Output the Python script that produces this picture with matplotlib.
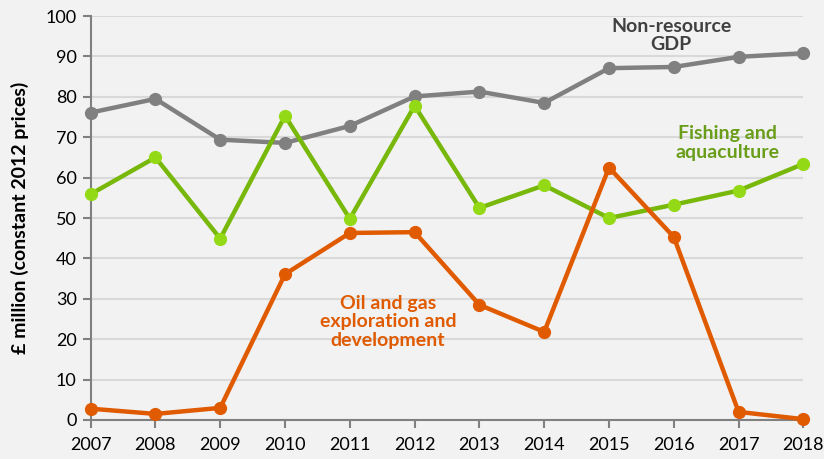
import matplotlib.pyplot as plt

# Data
years = list(range(2007, 2019))
non_resource_gdp = [76.1, 79.5, 69.4, 68.6, 72.8, 80.1, 81.3, 78.5, 87.1, 87.4, 89.9, 90.8]
fishing = [55.9, 65.0, 44.9, 75.3, 49.8, 77.8, 52.5, 58.1, 50.0, 53.3, 56.8, 63.4]
oil_gas = [2.8, 1.5, 3.0, 36.1, 46.3, 46.5, 28.5, 21.8, 62.5, 45.3, 2.0, 0.2]

bg = '#f2f2f2'
plt.rcParams['font.family'] = ['Lato', 'DejaVu Sans']

fig = plt.figure(figsize=(8.24, 4.59), dpi=100, facecolor=bg)
ax = fig.add_axes([0.110, 0.085, 0.865, 0.880], facecolor=bg)

# Series: (values, line colour, marker colour)
series = [
    (non_resource_gdp, '#808080', '#808080'),
    (fishing, '#78b80a', '#94d916'),
    (oil_gas, '#e05a00', '#e05a00'),
]
for vals, lc, mc in series:
    ax.plot(years, vals, color=lc, lw=3.2, marker='o', ms=8.5,
            mfc=mc, mec=mc, clip_on=False, zorder=3)

ax.set_xlim(2007, 2018)
ax.set_ylim(0, 100)
ax.set_xticks(years)
ax.set_yticks(range(0, 101, 10))
ax.grid(axis='y', color='#d9d9d9', lw=1.5)
ax.set_axisbelow(True)

for s in ['top', 'right']:
    ax.spines[s].set_visible(False)
for s in ['left', 'bottom']:
    ax.spines[s].set_color('#808080')
    ax.spines[s].set_linewidth(1.5)
ax.tick_params(axis='both', colors='#808080', labelcolor='black', width=1.5,
               length=6, labelsize=13)
ax.tick_params(axis='x', pad=6)
ax.tick_params(axis='y', pad=4)

ax.set_ylabel('£ million (constant 2012 prices)', fontsize=14, fontweight='bold', labelpad=12)

# Series labels
ax.text(2015.96, 95.2, 'Non-resource\nGDP', color='#404040', fontsize=14, fontweight='bold',
        ha='center', va='center', linespacing=1.12)
ax.text(2016.83, 68.6, 'Fishing and\naquaculture', color='#6a9e1a', fontsize=14, fontweight='bold',
        ha='center', va='center', linespacing=1.12)
ax.text(2011.59, 24.3, 'Oil and gas\nexploration and\ndevelopment', color='#e05a00', fontsize=14,
        fontweight='bold', ha='center', va='center', linespacing=1.12)

fig.savefig('out.png', dpi=100, facecolor=bg)
